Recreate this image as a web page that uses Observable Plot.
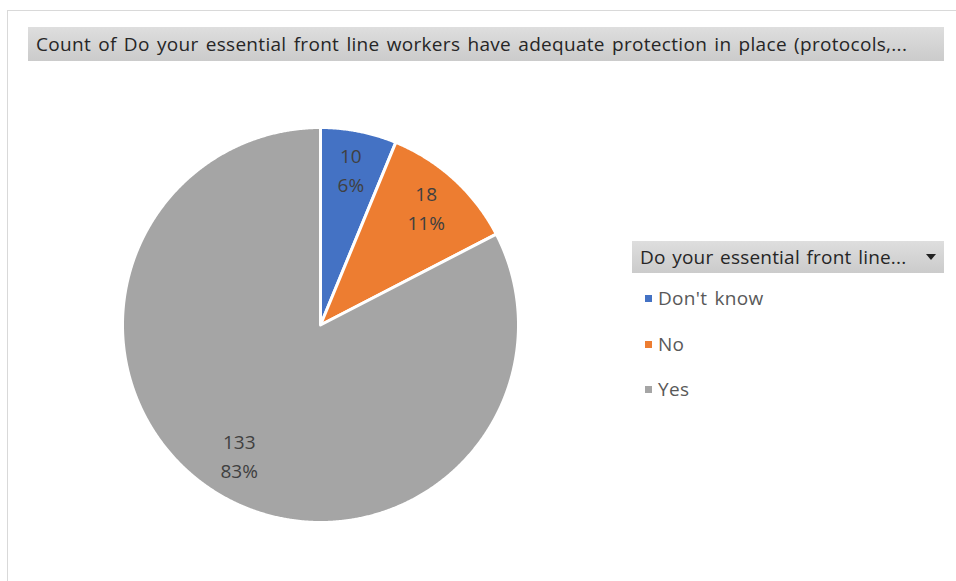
<!DOCTYPE html>
<html><head><meta charset="utf-8">
<script src="https://cdn.jsdelivr.net/npm/d3@7"></script>
<script src="https://cdn.jsdelivr.net/npm/@observablehq/plot@0.6"></script>
<style>
  html, body { margin: 0; padding: 0; background: #fff; }
  #wrap { position: relative; width: 956px; height: 581px; overflow: hidden; font-family: "Open Sans", "Noto Sans", sans-serif; }
  #wrap svg { position: absolute; left: 0; top: 0; }
  .frame { position: absolute; left: 7px; top: 10px; width: 960px; height: 600px; border-top: 1px solid #d9d9d9; border-left: 1px solid #d9d9d9; }
  .titlebar { position: absolute; left: 28px; top: 27px; width: 916px; height: 34px; background: linear-gradient(#dedede, #cbcbcb); color: #262626; font-size: 19px; letter-spacing: 0.3px; word-spacing: 2px; line-height: 34px; padding-left: 8px; box-sizing: border-box; white-space: nowrap; }
  .leghead { position: absolute; left: 632px; top: 241px; width: 312px; height: 32px; background: linear-gradient(#dedede, #cbcbcb); color: #262626; font-size: 19px; letter-spacing: 0.2px; word-spacing: 1.5px; line-height: 32px; padding-left: 8px; box-sizing: border-box; white-space: nowrap; }
  .tri { position: absolute; right: 8px; top: 13px; width: 0; height: 0; border-left: 5px solid transparent; border-right: 5px solid transparent; border-top: 6px solid #222; }
  .item { position: absolute; left: 645px; height: 24px; line-height: 24px; font-size: 19px; letter-spacing: 0.3px; word-spacing: 2px; color: #595959; white-space: nowrap; }
  .sw { display: inline-block; width: 7px; height: 7px; margin-right: 6px; vertical-align: middle; position: relative; top: -1px; }
</style>
</head><body><div id="wrap"></div>
<script>
const categories = ["Don't know", "No", "Yes"];
const counts = [10, 18, 133];
const colors = ["#4472C4", "#ED7D31", "#A5A5A5"];
const titleText = "Count of Do your essential front line workers have adequate protection in place (protocols,...";
const legendTitle = "Do your essential front line...";

const rows = categories.map((c, i) => ({category: c, count: counts[i]}));
const total = d3.sum(counts);
const arcs = d3.pie().sort(null).value(d => d.count)(rows);

const poly = [];
arcs.forEach(a => {
  const c = a.data.category;
  poly.push({category: c, x: 0, y: 0});
  const n = Math.max(4, Math.ceil((a.endAngle - a.startAngle) / 0.005));
  for (let k = 0; k <= n; k++) {
    const t = a.startAngle + (a.endAngle - a.startAngle) * k / n;
    poly.push({category: c, x: Math.sin(t), y: Math.cos(t)});
  }
});

const labelR = 0.79;
const labels = arcs.map(a => {
  const m = (a.startAngle + a.endAngle) / 2;
  return {
    category: a.data.category,
    x: labelR * Math.sin(m),
    y: labelR * Math.cos(m),
    text: `${a.data.count}\n${Math.round(a.data.count / total * 100)}%`
  };
});

const chart = Plot.plot({
  width: 956,
  height: 581,
  marginLeft: 122,
  marginRight: 438,
  marginTop: 127,
  marginBottom: 59,
  x: {domain: [-1, 1], axis: null},
  y: {domain: [-1, 1], axis: null},
  color: {domain: categories, range: colors},
  style: {background: "transparent", fontFamily: "'Open Sans', 'Noto Sans', sans-serif"},
  marks: [
    Plot.line(poly, {x: "x", y: "y", z: "category", fill: "category", stroke: "white", strokeWidth: 3, strokeLinejoin: "round", curve: "linear-closed"}),
    Plot.text(labels, {x: "x", y: "y", text: "text", fill: "#404040", fontSize: 19, lineHeight: 1.55, dy: -4})
  ]
});

const wrap = document.getElementById("wrap");
const frame = document.createElement("div"); frame.className = "frame"; wrap.appendChild(frame);
wrap.appendChild(chart);
const tb = document.createElement("div"); tb.className = "titlebar"; tb.textContent = titleText; wrap.appendChild(tb);
const lh = document.createElement("div"); lh.className = "leghead"; lh.textContent = legendTitle;
const tri = document.createElement("span"); tri.className = "tri"; lh.appendChild(tri); wrap.appendChild(lh);
const itemY = [286, 332, 377];
categories.forEach((c, i) => {
  const it = document.createElement("div"); it.className = "item"; it.style.top = itemY[i] + "px";
  const sw = document.createElement("span"); sw.className = "sw"; sw.style.background = colors[i];
  it.appendChild(sw); it.appendChild(document.createTextNode(c));
  wrap.appendChild(it);
});
</script>
</body></html>
